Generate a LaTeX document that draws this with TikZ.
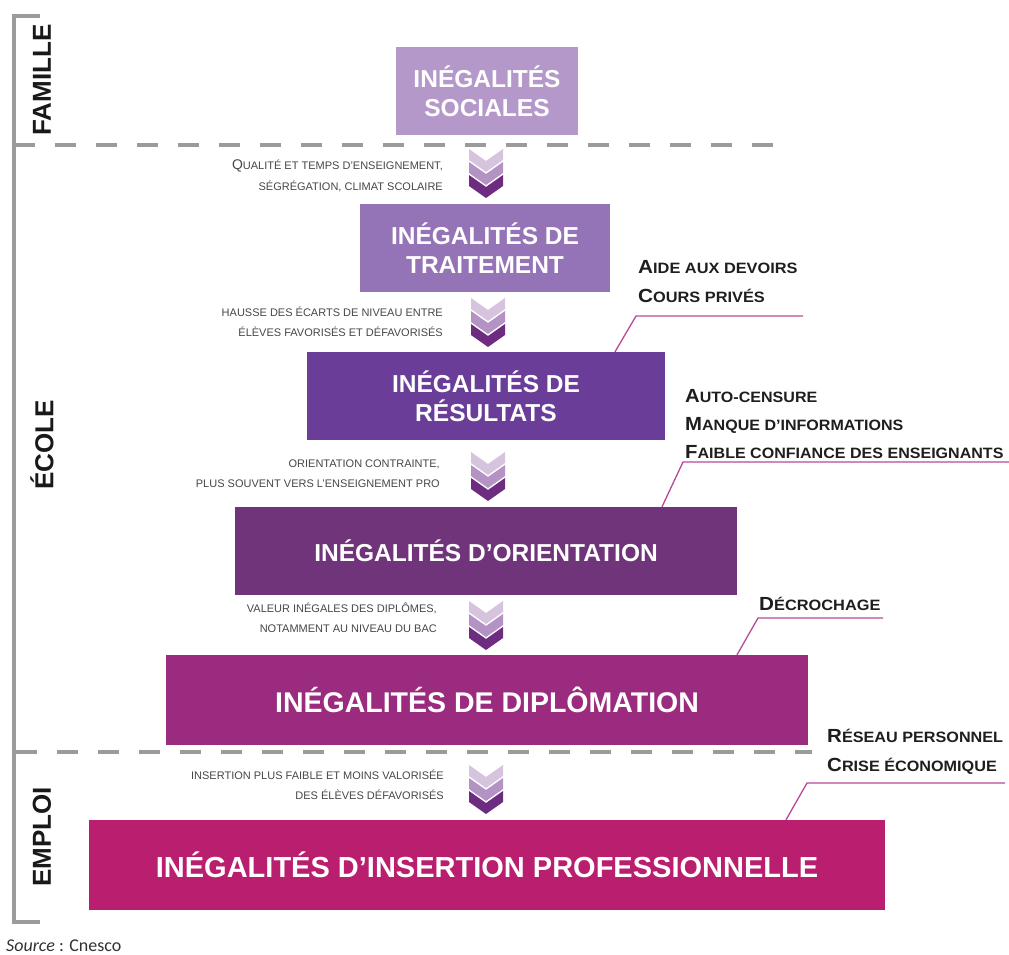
\documentclass[tikz,border=0pt]{standalone}
\usepackage{fontspec}
\setmainfont{Liberation Sans}
\newfontfamily\srcfont{Carlito}
\definecolor{cA}{RGB}{180,152,202}
\definecolor{cB}{RGB}{148,116,182}
\definecolor{cC}{RGB}{106,62,152}
\definecolor{cD}{RGB}{112,52,122}
\definecolor{cE}{RGB}{155,43,126}
\definecolor{cF}{RGB}{186,30,110}
\definecolor{chA}{RGB}{214,196,222}
\definecolor{chB}{RGB}{180,146,196}
\definecolor{chC}{RGB}{110,44,128}
\definecolor{dashgray}{RGB}{155,155,155}
\definecolor{leadc}{RGB}{184,72,150}
\definecolor{smallgray}{RGB}{70,70,70}
\newcommand\bigsc[2]{{\fontsize{19}{19}\selectfont #1}{\fontsize{15}{15}\selectfont #2}}
\begin{document}
\begin{tikzpicture}[x=1pt,y=-1pt,
  box/.style={fill=#1, text=white, align=center, inner sep=0pt, anchor=center},
  boxfont/.style={font=\bfseries\fontsize{24.5}{29}\selectfont},
  bigfont/.style={font=\bfseries\fontsize{29}{34}\selectfont},
  vlab/.style={rotate=90, text={rgb,255:red,25;green,25;blue,25}, font=\bfseries\fontsize{26}{26}\selectfont, inner sep=0pt},
  smalltxt/.style={anchor=base east, text=smallgray, font=\fontsize{11}{11}\selectfont, inner sep=0pt},
  rlab/.style={anchor=base west, text={rgb,255:red,30;green,30;blue,30}, font=\bfseries, inner sep=0pt},
  dashline/.style={draw=dashgray, line width=4pt, dash pattern=on 21pt off 20pt},
  bracket/.style={draw=dashgray, line width=3.5pt},
  leader/.style={draw=leadc, line width=1.3pt},
  chevs/.pic={
    \fill[chA] (-17,0) -- (0,12) -- (17,0) -- (17,11) -- (0,23) -- (-17,11) -- cycle;
    \fill[chB] (-17,13) -- (0,25) -- (17,13) -- (17,24) -- (0,36) -- (-17,24) -- cycle;
    \fill[chC] (-17,26) -- (0,38) -- (17,26) -- (17,37) -- (0,49) -- (-17,37) -- cycle;
  }]
\useasboundingbox (0,0) rectangle (1009,955);

% left bracket
\coordinate (brt) at (40,16);
\coordinate (brtl) at (14,16);
\coordinate (brbl) at (14,922);
\coordinate (brb) at (40,922);
\draw[bracket] (brt) -- (brtl) -- (brbl) -- (brb);

% dashed separators
\coordinate (d1a) at (14,145);
\coordinate (d1b) at (780,145);
\coordinate (d2a) at (16,752);
\coordinate (d2b) at (812,752);
\draw[dashline] (d1a) -- (d1b);
\draw[dashline] (d2a) -- (d2b);

% vertical labels
\node[vlab] (fam) at (42,80) {FAMILLE};
\node[vlab] (eco) at (42,445) {ÉCOLE};
\node[vlab] (emp) at (42,837) {EMPLOI};

% boxes
\node[box=cA, boxfont, minimum width=182pt, minimum height=88pt] (b1) at (487,91) {INÉGALITÉS\\SOCIALES};
\node[box=cB, boxfont, minimum width=250pt, minimum height=88pt] (b2) at (485,248) {INÉGALITÉS DE\\TRAITEMENT};
\node[box=cC, boxfont, minimum width=358pt, minimum height=88pt] (b3) at (486,396) {INÉGALITÉS DE\\RÉSULTATS};
\node[box=cD, boxfont, minimum width=502pt, minimum height=88pt] (b4) at (486,551) {INÉGALITÉS D’ORIENTATION};
\node[box=cE, font=\bfseries\fontsize{28.5}{34}\selectfont, minimum width=642pt, minimum height=90pt] (b5) at (487,700) {INÉGALITÉS DE DIPLÔMATION};
\node[box=cF, bigfont, minimum width=796pt, minimum height=90pt] (b6) at (487,865) {INÉGALITÉS D’INSERTION PROFESSIONNELLE};

% chevrons
\pic (ch1) at (486,149) {chevs};
\pic (ch2) at (488,298) {chevs};
\pic (ch3) at (488,452) {chevs};
\pic (ch4) at (486,601) {chevs};
\pic (ch5) at (486,765) {chevs};

% small captions
\node[smalltxt] (t1a) at (443,169) {{\fontsize{14}{14}\selectfont Q}UALITÉ ET TEMPS D’ENSEIGNEMENT,};
\node[smalltxt] (t1b) at (443,190) {SÉGRÉGATION, CLIMAT SCOLAIRE};
\node[smalltxt] (t2a) at (443,316) {HAUSSE DES ÉCARTS DE NIVEAU ENTRE};
\node[smalltxt] (t2b) at (443,336) {ÉLÈVES FAVORISÉS ET DÉFAVORISÉS};
\node[smalltxt] (t3a) at (440,467) {ORIENTATION CONTRAINTE,};
\node[smalltxt] (t3b) at (440,487) {PLUS SOUVENT VERS L’ENSEIGNEMENT PRO};
\node[smalltxt] (t4a) at (437,612) {VALEUR INÉGALES DES DIPLÔMES,};
\node[smalltxt] (t4b) at (437,632) {NOTAMMENT AU NIVEAU DU  BAC};
\node[smalltxt] (t5a) at (444,779) {INSERTION PLUS FAIBLE ET MOINS VALORISÉE};
\node[smalltxt] (t5b) at (444,799) {DES ÉLÈVES DÉFAVORISÉS};

% right labels
\node[rlab] (r1a) at (638,273) {\scalebox{1.09}[1]{\bigsc{A}{IDE AUX DEVOIRS}}};
\node[rlab] (r1b) at (638,302) {\scalebox{1.09}[1]{\bigsc{C}{OURS PRIVÉS}}};
\node[rlab] (r2a) at (685,402) {\scalebox{1.07}[1]{\bigsc{A}{UTO-CENSURE}}};
\node[rlab] (r2b) at (685,430) {\scalebox{1.07}[1]{\bigsc{M}{ANQUE D’INFORMATIONS}}};
\node[rlab] (r2c) at (685,458) {\scalebox{1.07}[1]{\bigsc{F}{AIBLE CONFIANCE DES ENSEIGNANTS}}};
\node[rlab] (r3a) at (759,610) {\scalebox{1.09}[1]{\bigsc{D}{ÉCROCHAGE}}};
\node[rlab] (r4a) at (827,742) {\scalebox{1.08}[1]{\bigsc{R}{ÉSEAU PERSONNEL}}};
\node[rlab] (r4b) at (827,771) {\scalebox{1.08}[1]{\bigsc{C}{RISE ÉCONOMIQUE}}};

% leader lines
\coordinate (l1a) at (b3.north -| 615,0);
\coordinate (l1b) at (636,316);
\coordinate (l1c) at (803,316);
\draw[leader] (l1a) -- (l1b) -- (l1c);
\coordinate (l2a) at (b4.north -| 662,0);
\coordinate (l2b) at (683,462);
\coordinate (l2c) at (1009,462);
\draw[leader] (l2a) -- (l2b) -- (l2c);
\coordinate (l3a) at (b5.north -| 737,0);
\coordinate (l3b) at (758,618);
\coordinate (l3c) at (883,618);
\draw[leader] (l3a) -- (l3b) -- (l3c);
\coordinate (l4a) at (b6.north -| 786,0);
\coordinate (l4b) at (807,783);
\coordinate (l4c) at (1005,783);
\draw[leader] (l4a) -- (l4b) -- (l4c);

% source
\node[anchor=base west, inner sep=0pt, text={rgb,255:red,50;green,50;blue,50}, font=\srcfont\fontsize{18}{18}\selectfont] (src) at (6,951) {\textit{Source} : Cnesco};
\end{tikzpicture}
\end{document}
